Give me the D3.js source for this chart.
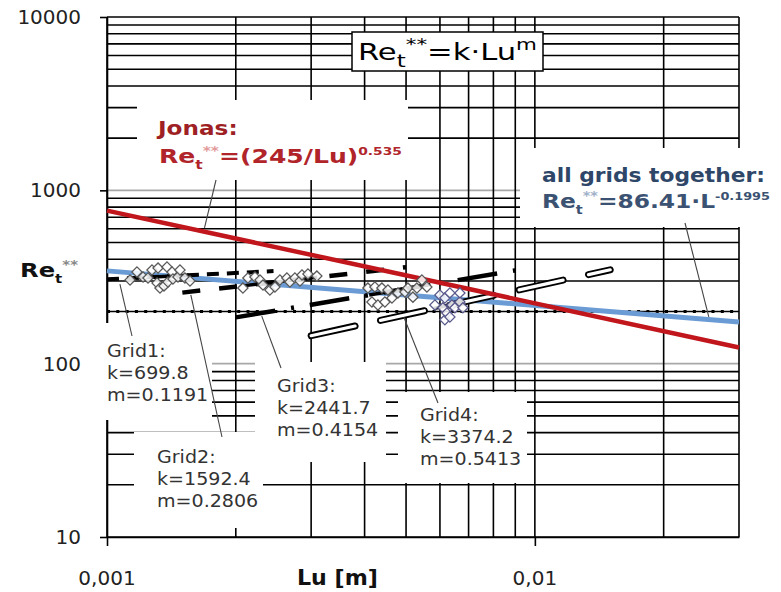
<!DOCTYPE html>
<html>
<head>
<meta charset="utf-8">
<script src="https://cdn.jsdelivr.net/npm/d3@7"></script>
<style>
  body { margin: 0; background: #fff; }
  text { font-family: "DejaVu Sans", Verdana, sans-serif; }
</style>
</head>
<body>
<div id="container"></div>
<script>
//------------------------DATA------------------------//
const luDomain = [0.001, 0.03];
const reDomain = [10, 10000];
const xTickValues = [0.001, 0.01];
const xTickLabels = ['0,001', '0,01'];
const yTickValues = [10, 100, 1000, 10000];
const yTickLabels = ['10', '100', '1000', '10000'];

// measured points per grid
const grid1Lu = [0.001132, 0.001175, 0.001214, 0.001247, 0.001274, 0.001309, 0.001316, 0.001330,
                 0.001359, 0.001381, 0.001388, 0.001419, 0.001426, 0.001465, 0.001481, 0.001521, 0.001563];
const grid1Re = [304, 338, 316, 312, 347, 292, 356, 273, 281, 361, 296, 338, 308, 316, 347, 312, 300];
const grid2Lu = [0.002078, 0.002135, 0.002217, 0.002278, 0.002315, 0.002403, 0.002469, 0.002536,
                 0.002633, 0.002676, 0.002749, 0.002825, 0.002856, 0.002949, 0.003094];
const grid2Re = [273, 312, 316, 304, 284, 266, 277, 304, 312, 296, 312, 300, 325, 329, 320];
const grid3Lu = [0.004072, 0.004161, 0.004228, 0.004297, 0.004391, 0.004462, 0.004535, 0.004634,
                 0.004786, 0.004970, 0.005050, 0.005188, 0.005300, 0.005445, 0.005593];
const grid3Re = [273, 227, 277, 218, 273, 227, 266, 239, 256, 259, 273, 242, 273, 304, 277];
const grid4Lu = [0.005840, 0.005998, 0.006095, 0.006162, 0.006162, 0.006228, 0.006330, 0.006330,
                 0.006399, 0.006503, 0.006680, 0.006680, 0.006789];
const grid4Re = [218, 249, 210, 239, 179, 196, 256, 186, 218, 210, 227, 256, 210];

// fitted power laws (end points)
const jonasLu = [0.001, 0.03];
const jonasRe = [764, 124];
const allLu = [0.001, 0.03];
const allRe = [343, 174];
const refLu = [0.001, 0.03];
const refRe = [200, 200];
const fit1Lu = [0.001, 0.00245];
const fit1Re = [307, 342];
const fit2Lu = [0.0015, 0.005];
const fit2Re = [257, 360];
const fit3Lu = [0.002, 0.009];
const fit3Re = [185, 345];
const fit4Lu = [0.003, 0.015];
const fit4Re = [145, 348];
// solid part of each fit over the measured range
const span1Lu = [0.00115, 0.00155], span1Re = [312, 324];
const span2Lu = [0.0021, 0.0031], span2Re = [282, 315];
const span3Lu = [0.0041, 0.0057], span3Re = [249, 286];
const span4Lu = [0.0058, 0.0068], span4Re = [208, 227];

//------------------------SVG------------------------//
const width = 781;
const height = 592;
const plotL = 107, plotR = 739, plotT = 17, plotB = 537;

const svg = d3.select('#container').append('svg')
    .attr('width', width)
    .attr('height', height);

const x = d3.scaleLog().domain(luDomain).range([plotL, plotR]);
const y = d3.scaleLog().domain(reDomain).range([plotB, plotT]);

// grid
const grid = svg.append('g');
grid.selectAll('.hg')
  .data(y.ticks())
  .enter().append('line')
  .attr('x1', plotL).attr('x2', plotR)
  .attr('y1', d => y(d)).attr('y2', d => y(d))
  .attr('stroke', d => (d === 100 || d === 1000) ? '#a8a8a8' : '#000')
  .attr('stroke-width', 1.6);
grid.selectAll('.vg')
  .data(x.ticks())
  .enter().append('line')
  .attr('x1', d => x(d)).attr('x2', d => x(d))
  .attr('y1', plotT).attr('y2', plotB)
  .attr('stroke', '#000')
  .attr('stroke-width', 1.6);

// axes
const yAxis = d3.axisLeft(y).tickValues(yTickValues).tickFormat('').tickSize(7).tickSizeOuter(0);
const gy = svg.append('g').attr('transform', `translate(${plotL},0)`).call(yAxis);
const xAxis = d3.axisBottom(x).tickValues(xTickValues).tickFormat('').tickSize(9).tickSizeOuter(0);
const gx = svg.append('g').attr('transform', `translate(0,${plotB})`).call(xAxis);
[gx, gy].forEach(g => {
  g.selectAll('path, line').attr('stroke', '#000').attr('stroke-width', 1.6);
});

svg.append('g').selectAll('text')
  .data(yTickValues)
  .enter().append('text')
  .attr('x', 81)
  .attr('y', d => y(d) + 7)
  .attr('text-anchor', 'end')
  .attr('fill', '#222')
  .style('font-size', '20px')
  .text((d, i) => yTickLabels[i]);

svg.append('g').selectAll('text')
  .data(xTickValues)
  .enter().append('text')
  .attr('x', d => x(d))
  .attr('y', 585)
  .attr('text-anchor', 'middle')
  .attr('fill', '#222')
  .style('font-size', '20px')
  .text((d, i) => xTickLabels[i]);

//------------------------SERIES------------------------//
const line = d3.line().x(d => x(d[0])).y(d => y(d[1]));
const pairs = (a, b) => a.map((v, i) => [v, b[i]]);

svg.append('path').datum(pairs(refLu, refRe)).attr('d', line)
  .attr('fill', 'none').attr('stroke', '#000').attr('stroke-width', 3.2)
  .attr('stroke-dasharray', '3 6.3');

svg.append('path').datum(pairs(allLu, allRe)).attr('d', line)
  .attr('fill', 'none').attr('stroke', '#6a9bd4').attr('stroke-width', 5);

const fits = svg.append('g').attr('fill', 'none').attr('stroke', '#000');
fits.append('path').datum(pairs(fit1Lu, fit1Re)).attr('d', line)
  .attr('stroke-width', 4).attr('stroke-dasharray', '12 8');
fits.append('path').datum(pairs(fit2Lu, fit2Re)).attr('d', line)
  .attr('stroke-width', 4.5).attr('stroke-dasharray', '18 19');
fits.append('path').datum(pairs(fit3Lu, fit3Re)).attr('d', line)
  .attr('stroke-width', 4.5).attr('stroke-dasharray', '40 16 3 16');
fits.append('path').datum(pairs(fit4Lu, fit4Re)).attr('d', line)
  .attr('stroke-width', 7).attr('stroke-linecap', 'round').attr('stroke-dasharray', '45 26');
fits.append('path').datum(pairs(fit4Lu, fit4Re)).attr('d', line)
  .attr('stroke', '#fff').attr('stroke-width', 3.2).attr('stroke-linecap', 'round')
  .attr('stroke-dasharray', '45 26');
[[span1Lu, span1Re], [span2Lu, span2Re], [span3Lu, span3Re], [span4Lu, span4Re]].forEach(s => {
  fits.append('path').datum(pairs(s[0], s[1])).attr('d', line).attr('stroke-width', 3.5);
});

svg.append('path').datum(pairs(jonasLu, jonasRe)).attr('d', line)
  .attr('fill', 'none').attr('stroke', '#c0161c').attr('stroke-width', 4.5);

const diamond = d3.symbol().type(d3.symbolSquare).size(52);
const grids = [
  {lu: grid1Lu, re: grid1Re, c: '#5a5a5a'},
  {lu: grid2Lu, re: grid2Re, c: '#5a5a5a'},
  {lu: grid3Lu, re: grid3Re, c: '#5a5a5a'},
  {lu: grid4Lu, re: grid4Re, c: '#5a5a8c'}
];
grids.forEach(g => {
  svg.append('g').selectAll('path')
    .data(pairs(g.lu, g.re))
    .enter().append('path')
    .attr('d', diamond)
    .attr('transform', d => `translate(${x(d[0])},${y(d[1])}) rotate(45)`)
    .attr('fill', '#fff')
    .attr('fill-opacity', 0.85)
    .attr('stroke', g.c)
    .attr('stroke-width', 1.3);
});

//------------------------LABELS------------------------//
// white label backgrounds cut the grid like in the original
const boxes = [
  [137, 100, 271, 80],   // Jonas
  [520, 148, 255, 79],   // all grids
  [100, 323, 112, 97],   // Grid1
  [134, 432, 129, 96],   // Grid2
  [255, 362, 131, 100],  // Grid3
  [398, 392, 129, 91]    // Grid4
];
svg.append('g').selectAll('rect')
  .data(boxes)
  .enter().append('rect')
  .attr('x', d => d[0]).attr('y', d => d[1])
  .attr('width', d => d[2]).attr('height', d => d[3])
  .attr('fill', '#fff');

svg.append('rect')
  .attr('x', 352).attr('y', 32).attr('width', 191).attr('height', 39)
  .attr('fill', '#fff').attr('stroke', '#000').attr('stroke-width', 1.5);

function rich(px, py, parts, o) {
  const g = svg.append('g').attr('transform', `translate(${px},${py})`);
  const t = g.append('text')
    .attr('fill', o.fill)
    .style('font-size', o.size + 'px')
    .style('font-weight', o.bold ? 'bold' : 'normal');
  let cur = 0;
  parts.forEach(p => {
    const off = p.sub ? o.size * 0.3 : p.sup ? -o.size * 0.42 : 0;
    const ts = t.append('tspan').attr('dy', off - cur).text(p.t);
    if (p.sub || p.sup) ts.style('font-size', (o.size * (p.k || 0.62)) + 'px');
    if (p.fill) ts.attr('fill', p.fill);
    cur = off;
  });
  if (o.w) {
    const bw = t.node().getBBox().width;
    g.attr('transform', `translate(${px},${py}) scale(${o.w / bw},1)`);
  } else if (o.sx) {
    g.attr('transform', `translate(${px},${py}) scale(${o.sx},1)`);
  }
  return g;
}

// title
rich(358, 60, [{t: 'Re'}, {t: 't', sub: true, k: 0.75}, {t: '**', sup: true, k: 0.7},
  {t: '=k·Lu'}, {t: 'm', sup: true, k: 0.7}], {size: 23, fill: '#000', w: 179});

// axis titles
rich(20, 277, [{t: 'Re'}, {t: 't', sub: true}, {t: '**', sup: true, fill: '#888'}],
  {size: 19, bold: true, fill: '#111', w: 58});
rich(297, 585, [{t: 'Lu [m]'}], {size: 21, bold: true, fill: '#111', w: 81});

// Jonas
rich(158, 135, [{t: 'Jonas:'}], {size: 20, bold: true, fill: '#9e1f24', w: 82});
rich(159, 163, [{t: 'Re'}, {t: 't', sub: true}, {t: '**', sup: true, fill: '#e29a9a'},
  {t: '=(245/Lu)'}, {t: '0.535', sup: true, k: 0.55}], {size: 20, bold: true, fill: '#b0242a', w: 243});

// all grids together
rich(542, 182, [{t: 'all grids together:'}], {size: 19, bold: true, fill: '#2e4668', w: 223});
rich(542, 208, [{t: 'Re'}, {t: 't', sub: true}, {t: '**', sup: true, fill: '#9fb0c8'},
  {t: '=86.41·L'}, {t: '-0.1995', sup: true, k: 0.55}], {size: 19, bold: true, fill: '#3b5272', w: 228});

// grid labels
const gridLabels = [
  {x: 107, y: 357, lines: ['Grid1:', 'k=699.8', 'm=0.1191']},
  {x: 157, y: 463, lines: ['Grid2:', 'k=1592.4', 'm=0.2806']},
  {x: 277, y: 392, lines: ['Grid3:', 'k=2441.7', 'm=0.4154']},
  {x: 420, y: 421, lines: ['Grid4:', 'k=3374.2', 'm=0.5413']}
];
gridLabels.forEach(l => {
  l.lines.forEach((s, i) => {
    rich(l.x, l.y + i * 22, [{t: s}], {size: 18, fill: '#333', sx: 1.06});
  });
});

// leader lines: label end in pixels, series end in data units
const leaders = [
  {from: [216, 180], to: [0.00169, 607]},
  {from: [685, 223], to: [0.0255, 186]},
  {from: [132, 336], to: [0.001072, 288]},
  {from: [222, 437], to: [0.00157, 249]},
  {from: [281, 368], to: [0.0023, 188]},
  {from: [438, 403], to: [0.00494, 186]}
];
svg.append('g').selectAll('line')
  .data(leaders)
  .enter().append('line')
  .attr('x1', d => d.from[0]).attr('y1', d => d.from[1])
  .attr('x2', d => x(d.to[0])).attr('y2', d => y(d.to[1]))
  .attr('stroke', '#444')
  .attr('stroke-width', 1.1);
</script>
</body>
</html>
